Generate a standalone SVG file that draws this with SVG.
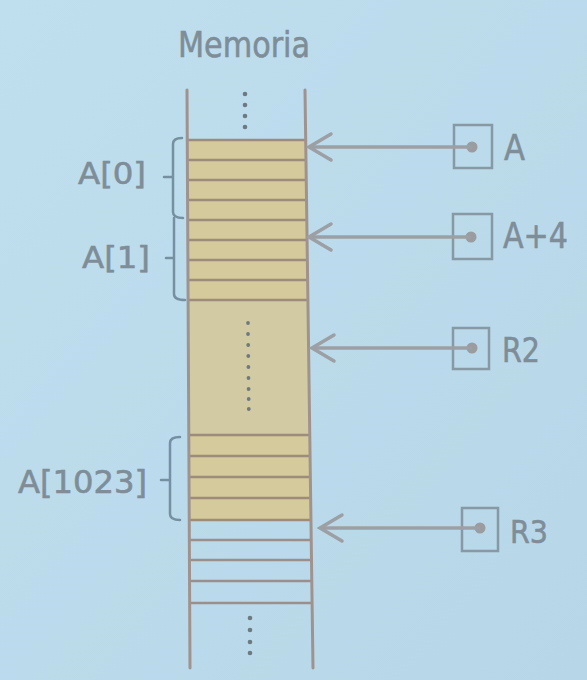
<svg xmlns="http://www.w3.org/2000/svg" width="587" height="680" viewBox="0 0 587 680">
  <style>
    .txt { font-family: "DejaVu Sans", "Liberation Sans", sans-serif; fill: #7e8d97; stroke: #7e8d97; stroke-width: 0.6; }
    .edge { stroke: #a0938e; stroke-width: 3; fill: none; stroke-linecap: round; }
    .row { stroke: #9d8b7c; stroke-width: 2.5; fill: none; }
    .rowW { stroke: #9a8f8c; stroke-width: 2.5; fill: none; }
    .brace { stroke: #7590a0; stroke-width: 2.5; fill: none; stroke-linecap: round; stroke-linejoin: round; }
    .dots { fill: #6d7a82; }
    .conn { stroke: #9c9fa3; stroke-width: 3.5; fill: none; }
    .box { stroke: #8799a4; stroke-width: 2.5; fill: none; }
    .pin { fill: #9a9ca0; }
  </style>
  <defs>
    <marker id="openArrow" viewBox="-25 -16 28 32" refX="0" refY="0" markerWidth="28" markerHeight="32" markerUnits="userSpaceOnUse" orient="auto" overflow="visible">
      <path d="M-22,-13 L0,0 L-22,13" fill="none" stroke="#9c9fa3" stroke-width="3.5" stroke-linecap="round" stroke-linejoin="miter"/>
    </marker>
    <linearGradient id="bg" x1="0" y1="0" x2="1" y2="1">
      <stop offset="0" stop-color="#bfdeee"/>
      <stop offset="1" stop-color="#b7d7e8"/>
    </linearGradient>
  </defs>

  <rect x="0" y="0" width="587" height="680" fill="url(#bg)"/>

  <text id="title" class="txt" x="178" y="57" font-size="35" textLength="132" lengthAdjust="spacingAndGlyphs">Memoria</text>

  <g id="memory">
    <polygon points="187.3,140 305.7,140 307.9,300 188.1,300" fill="#d5ca9b"/>
    <polygon points="188.1,300 307.9,300 309.8,435 188.8,435" fill="#d2caa2"/>
    <polygon points="188.8,435 309.8,435 311,520 189.2,520" fill="#d5ca9b"/>
    <path class="row" d="M187.3,140 H305.7 M187.4,160 H306 M187.5,180 H306.3 M187.6,200 H306.5 M187.7,220 H306.8 M187.8,240 H307.1 M187.9,260 H307.4 M188,280 H307.6 M188.1,300 H307.9"/>
    <path class="row" d="M188.8,435 H309.8 M188.9,456 H310.1 M189,477 H310.4 M189.1,498 H310.7 M189.2,520 H311"/>
    <path class="rowW" d="M189.3,540 H311.2 M189.4,560 H311.5 M189.5,581 H311.8 M189.7,603 H312.1"/>
    <path class="edge" d="M187,90 L190,668"/>
    <path class="edge" d="M305,90 L313,668"/>
    <g class="dots">
      <circle cx="245" cy="94" r="2.3"/>
      <circle cx="245" cy="105" r="2.3"/>
      <circle cx="245" cy="116" r="2.3"/>
      <circle cx="245" cy="127" r="2.3"/>
    </g>
    <g class="dots">
      <circle cx="248" cy="323" r="1.9"/>
      <circle cx="248" cy="334" r="1.9"/>
      <circle cx="248.2" cy="345" r="1.9"/>
      <circle cx="248.3" cy="356" r="1.9"/>
      <circle cx="248.4" cy="367" r="1.9"/>
      <circle cx="248.5" cy="378" r="1.9"/>
      <circle cx="248.6" cy="389" r="1.9"/>
      <circle cx="248.7" cy="399" r="1.9"/>
      <circle cx="248.8" cy="409" r="1.9"/>
    </g>
    <g class="dots">
      <circle cx="250" cy="618" r="2.3"/>
      <circle cx="250" cy="630" r="2.3"/>
      <circle cx="250" cy="642" r="2.3"/>
      <circle cx="250" cy="653" r="2.3"/>
    </g>
  </g>

  <g id="label-A0">
    <path class="brace" d="M182,138 Q173,138 173,144 V177 H164 M173,177 V212 Q173,218 183,218"/>
    <text class="txt" x="78" y="184" font-size="31" textLength="68" lengthAdjust="spacingAndGlyphs">A[0]</text>
  </g>
  <g id="label-A1">
    <path class="brace" d="M174,218 V258 H166 M174,258 V294 Q174,300 185,300"/>
    <text class="txt" x="82" y="268" font-size="31" textLength="68" lengthAdjust="spacingAndGlyphs">A[1]</text>
  </g>
  <g id="label-A1023">
    <path class="brace" d="M180,437 Q170,437 170,443 V480 H161 M170,480 V514 Q170,520 180,520"/>
    <text class="txt" x="18" y="493" font-size="32" textLength="129" lengthAdjust="spacingAndGlyphs">A[1023]</text>
  </g>

  <g id="reg-A">
    <rect class="box" x="454" y="125" width="38" height="43"/>
    <circle class="pin" cx="472" cy="147" r="5.5"/>
    <text class="txt" x="504" y="160" font-size="36" textLength="21" lengthAdjust="spacingAndGlyphs">A</text>
  </g>
  <g id="reg-A4">
    <rect class="box" x="453" y="214" width="39" height="45"/>
    <circle class="pin" cx="471" cy="237" r="5.5"/>
    <text class="txt" x="503" y="248" font-size="35" textLength="65" lengthAdjust="spacingAndGlyphs">A+4</text>
  </g>
  <g id="reg-R2">
    <rect class="box" x="453" y="328" width="36" height="41"/>
    <circle class="pin" cx="472" cy="348" r="5.5"/>
    <text class="txt" x="502" y="362" font-size="34" textLength="38" lengthAdjust="spacingAndGlyphs">R2</text>
  </g>
  <g id="reg-R3">
    <rect class="box" x="462" y="508" width="36" height="43"/>
    <circle class="pin" cx="480" cy="528" r="5.5"/>
    <text class="txt" x="510" y="543" font-size="32" textLength="38" lengthAdjust="spacingAndGlyphs">R3</text>
  </g>

  <g id="connectors">
    <line class="conn" x1="472" y1="147" x2="309" y2="147" marker-end="url(#openArrow)"/>
    <line class="conn" x1="471" y1="237" x2="309" y2="237" marker-end="url(#openArrow)"/>
    <line class="conn" x1="472" y1="348" x2="312" y2="348" marker-end="url(#openArrow)"/>
    <line class="conn" x1="480" y1="528" x2="320" y2="528" marker-end="url(#openArrow)"/>
  </g>
</svg>
